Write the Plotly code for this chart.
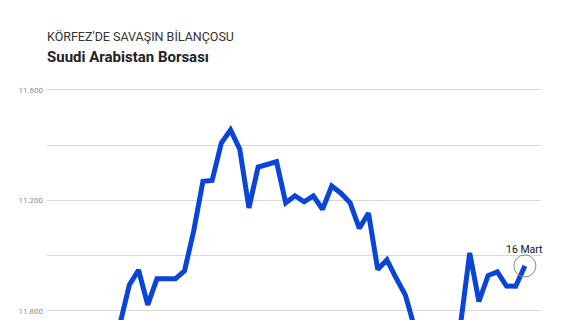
import plotly.graph_objects as go

# Trading-day index (uniform spacing) and index values
day_index = list(range(45))
index_values = [
    10755, 10894, 10948, 10822, 10916, 10916, 10916, 10945, 11090, 11269,
    11272, 11408, 11455, 11386, 11173, 11321, 11332, 11340, 11191, 11217,
    11195, 11216, 11168, 11252, 11226, 11191, 11099, 11154, 10950, 10985,
    10919, 10858, 10740, 10660, 10620, 10640, 10700, 10750, 11010, 10834,
    10928, 10941, 10890, 10889, 10963,
]
last_label = "16 Mart"

tick_values = [10800, 11000, 11200, 11400, 11600]
tick_labels = ["11.800", "", "11.200", "", "11.600"]

title_text = "KÖRFEZ'DE SAVAŞIN BİLANÇOSU"
subtitle_text = "Suudi Arabistan Borsası"

line_color = "#0a45d8"

fig = go.Figure()
fig.add_trace(go.Scatter(
    x=day_index, y=index_values, mode="lines",
    line=dict(color=line_color, width=5, shape="linear"),
    hoverinfo="skip", showlegend=False,
))
fig.add_trace(go.Scatter(
    x=[day_index[-1]], y=[index_values[-1]], mode="markers",
    marker=dict(symbol="circle-open", size=22, color="#8a8a8a", line=dict(width=1, color="#8a8a8a")),
    hoverinfo="skip", showlegend=False, cliponaxis=False,
))
fig.add_annotation(
    x=day_index[-1], y=index_values[-1], text=last_label, showarrow=False,
    yshift=16, font=dict(family="Roboto", size=10.5, color="#111"),
)

fig.add_annotation(
    xref="paper", yref="paper", x=0, y=(320 - 37) / 240, xanchor="left", yanchor="middle",
    xshift=-2, text=title_text, showarrow=False,
    font=dict(family="Roboto", size=12.5, color="#333"),
)
fig.add_annotation(
    xref="paper", yref="paper", x=0, y=(320 - 57) / 240, xanchor="left", yanchor="middle",
    xshift=-2, text="<b>" + subtitle_text + "</b>", showarrow=False,
    font=dict(family="Roboto", size=15, color="#222"),
)

fig.update_layout(
    width=568, height=320,
    margin=dict(l=47, r=27, t=80, b=0),
    paper_bgcolor="white", plot_bgcolor="white",
    font=dict(family="Roboto"),
    xaxis=dict(range=[-7.95, 45.75], visible=False, showgrid=False, zeroline=False),
    yaxis=dict(
        range=[10767, 11636], tickvals=tick_values, ticktext=tick_labels,
        showgrid=True, gridcolor="#d9d9d9", gridwidth=1, zeroline=False,
        showline=False, ticks="", ticklabelstandoff=3,
        tickfont=dict(family="Roboto", size=8, color="#8c8c8c"),
    ),
)

fig.write_html("out.html")
